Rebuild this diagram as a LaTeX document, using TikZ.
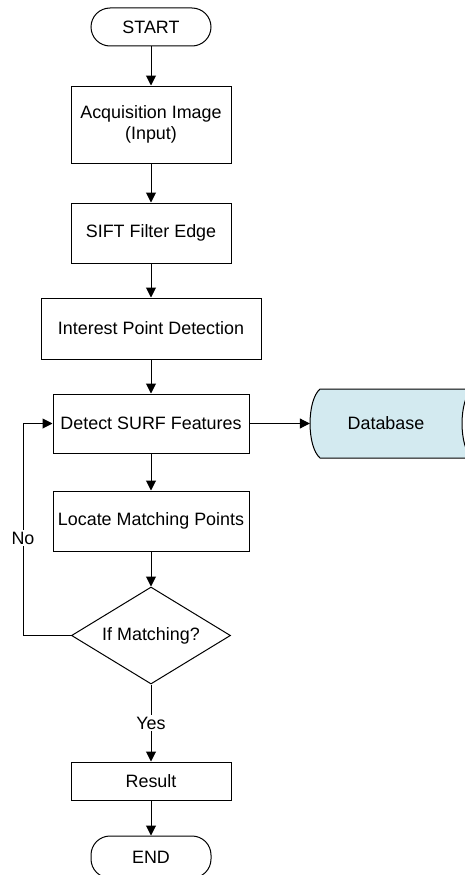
\documentclass[tikz,border=0pt]{standalone}
\usepackage{fontspec}
\setmainfont{Liberation Sans}
\usetikzlibrary{shapes.geometric,arrows.meta}
\definecolor{dbfill}{RGB}{211,234,240}
\begin{document}
\begin{tikzpicture}[x=1pt,y=-1pt,
  every node/.style={font=\fontsize{17.9}{21.5}\selectfont, inner sep=0pt, align=center},
  proc/.style={draw=black, line width=1pt, rectangle, minimum width=#1},
  term/.style={draw=black, line width=1pt, rectangle, rounded corners=19pt, minimum width=120pt, minimum height=38pt},
  dec/.style={draw=black, line width=1pt, diamond, aspect=1.64, minimum width=159pt, minimum height=97pt},
  arr/.style={line width=1pt, -{Triangle[length=10pt,width=10pt]}},
  ln/.style={line width=1pt},
  lab/.style={fill=white, inner sep=2pt}]
\useasboundingbox (0,0) rectangle (465,875);
\begin{scope}
\clip (0,0) rectangle (465,875);
\node[term] (start) at (151,27) {START};
\node[proc=160pt, minimum height=77pt] (acq) at (151,124.5) {Acquisition Image\\(Input)};
\node[proc=160pt, minimum height=60pt] (sift) at (151,233) {SIFT Filter Edge};
\node[proc=220pt, minimum height=61pt] (ipd) at (151,328.5) {Interest Point Detection};
\node[proc=196pt, minimum height=59pt] (surf) at (151,423.5) {Detect SURF Features};
\node[proc=196pt, minimum height=60pt] (loc) at (151,521) {Locate Matching Points};
\node[dec] (dec) at (151,635.5) {If Matching?};
\node[proc=160pt, minimum height=38pt] (res) at (151,781) {Result};
\node[term, minimum height=42pt] (end) at (151,857) {END};
% database (stored data shape)
\fill[dbfill] (320,389) .. controls (306.7,400.5) and (306.7,446.5) .. (320,458)
  -- (472,458) .. controls (458.7,446.5) and (458.7,400.5) .. (472,389) -- cycle;
\draw[ln] (472,389) -- (320,389) .. controls (306.7,400.5) and (306.7,446.5) .. (320,458) -- (472,458)
  .. controls (458.7,446.5) and (458.7,400.5) .. (472,389);
\node[minimum width=152pt, minimum height=69pt] (db) at (386,423.5) {Database};
% connectors
\draw[arr] (start) -- (acq);
\draw[arr] (acq) -- (sift);
\draw[arr] (sift) -- (ipd);
\draw[arr] (ipd) -- (surf);
\draw[arr] (surf) -- (loc);
\draw[arr] (loc) -- (dec);
\draw[arr] (surf.east) -- (db.west);
\draw[arr] (dec.south) -- node[lab] {Yes} (res.north);
\draw[arr] (res) -- (end);
\coordinate (lp) at (23,635.5);
\draw[arr] (dec.west) -- (lp) -- node[lab, pos=0.46] {No} (lp |- surf.west) -- (surf.west);
\end{scope}
\end{tikzpicture}
\end{document}
